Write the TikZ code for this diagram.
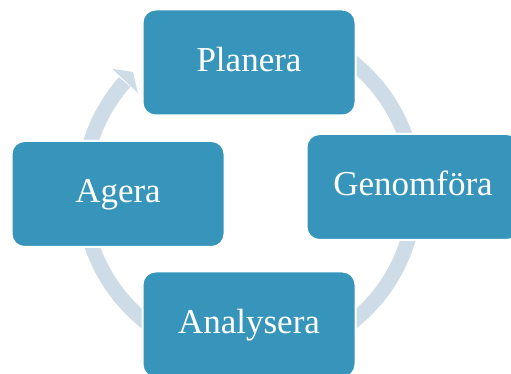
\documentclass[tikz,border=0pt]{standalone}
\usepackage{fontspec}
\setmainfont{Liberation Serif}
\definecolor{boxblue}{RGB}{55,149,187}
\definecolor{ringgray}{RGB}{206,220,231}
\tikzset{
  x=1pt, y=1pt,
  stagebox/.style={rectangle, rounded corners=13pt, fill=boxblue, draw=white,
    line width=2pt, minimum width=213pt, minimum height=106pt, inner sep=0pt,
    text=white, font=\fontsize{35}{40}\selectfont, text height=18pt, text depth=0pt},
  ring/.style={draw=ringgray, line width=15pt, line cap=butt},
  ringhead/.style={fill=ringgray, draw=none}
}
\begin{document}
\begin{tikzpicture}
\useasboundingbox (0,0) rectangle (511,374);
\coordinate (c) at (249,182);
% ring with arrowhead
\draw[ring] (c) ++(90:166) arc[start angle=90, end angle=-221.5, radius=166];
\fill[ringhead] ([shift={(138:184)}]c) -- ([shift={(134:167)}]c) -- ([shift={(138.3:149)}]c) -- cycle;
% boxes
\node[stagebox] (planera) at (249,311.5) {Planera};
\node[stagebox] (genomfora) at (413,187) {Genomföra};
\node[stagebox] (agera) at (118,180) {Agera};
\node[stagebox] (analysera) at (249,49.5) {Analysera};
\end{tikzpicture}
\end{document}
